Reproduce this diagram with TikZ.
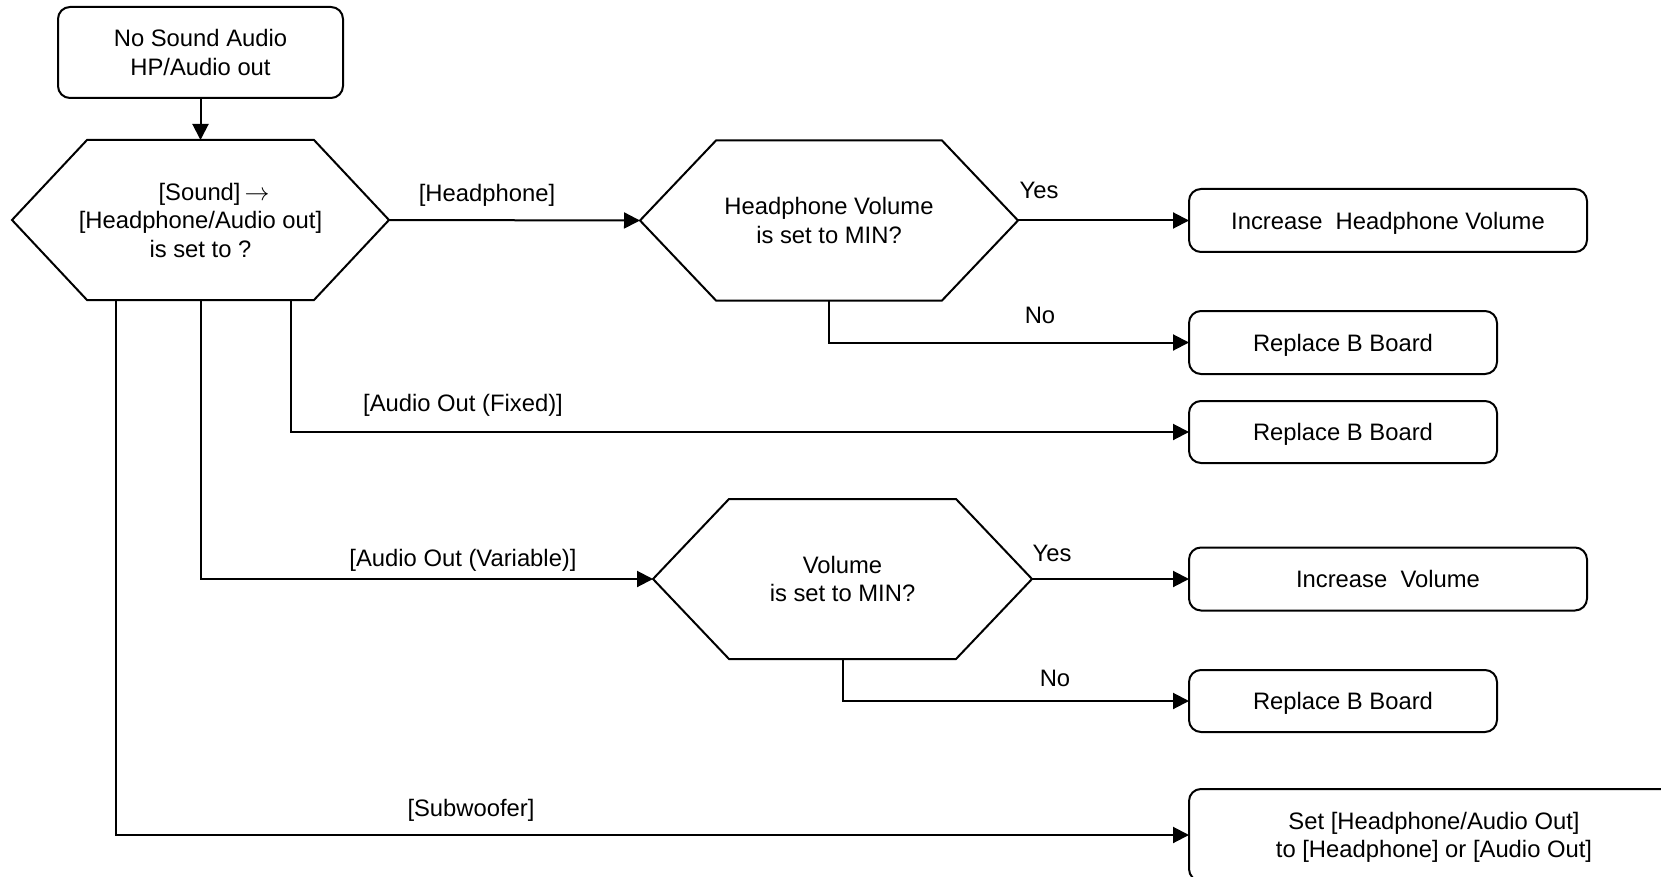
\documentclass[tikz,border=0pt]{standalone}
\usepackage{fontspec}
\setmainfont{Liberation Sans}
\usetikzlibrary{arrows.meta,calc}
\begin{document}
\begin{tikzpicture}[x=1pt,y=-1pt,
  every node/.style={font=\fontsize{23.8}{28.5}\selectfont, inner sep=0pt, outer sep=0pt, align=center},
  box/.style={draw, line width=2pt, rounded corners=12pt, text depth=0pt},
  hexnode/.style={text depth=0pt},
  hexline/.style={line width=2pt, line join=miter},
  conn/.style={line width=2pt, -{Triangle[length=16pt,width=16pt]}}]
\useasboundingbox (0,0) rectangle (1661,877);
\clip (0,0) rectangle (1661,877);
\fill[white] (0,0) rectangle (1661,877);

% start box
\node[box, minimum width=285pt, minimum height=91pt] (start) at (200.5,52.5) {No Sound Audio\\HP/Audio out};

% hexagon nodes (text holders)
\node[hexnode, minimum width=377pt, minimum height=160pt] (hex1) at (200.5,220) {\hspace*{27pt}[Sound]\,$\rightarrow$\\\relax [Headphone/Audio out]\\is set to ?};
\node[hexnode, minimum width=378pt, minimum height=160pt] (hex2) at (829,220.5) {Headphone Volume\\is set to MIN?};
\node[hexnode, minimum width=379pt, minimum height=160pt] (hex3) at (842.5,579) {Volume\\is set to MIN?};

\foreach \h/\c in {hex1/75,hex2/76,hex3/76}{
  \draw[hexline] (\h.west) -- ($(\h.north west)+(\c,0)$) -- ($(\h.north east)+(-\c,0)$) -- (\h.east)
    -- ($(\h.south east)+(-\c,0)$) -- ($(\h.south west)+(\c,0)$) -- cycle;
}

% result boxes
\node[box, minimum width=398pt, minimum height=63pt] (inc1) at (1388,220.5) {Increase\ \ Headphone Volume};
\node[box, minimum width=308pt, minimum height=63pt] (rep1) at (1343,342.5) {Replace B Board};
\node[box, minimum width=308pt, minimum height=62pt] (rep2) at (1343,432) {Replace B Board};
\node[box, minimum width=398pt, minimum height=63pt] (inc2) at (1388,579) {Increase\ \ Volume};
\node[box, minimum width=308pt, minimum height=62pt] (rep3) at (1343,701) {Replace B Board};
\node[box, minimum width=490pt, minimum height=92pt] (set) at (1434,835) {Set [Headphone/Audio Out]\\\relax to [Headphone] or [Audio Out]};

% connectors
\draw[conn] (start.south) -- (hex1.north);
\draw[conn] (hex1.east) -- (hex2.west);
\draw[conn] (hex2.east) -- (inc1.west);
\draw[conn] (hex2.south) |- (rep1.west);
\draw[conn] ($(hex1.south)+(90,0)$) |- (rep2.west);
\draw[conn] (hex1.south) |- (hex3.west);
\draw[conn] (hex3.east) -- (inc2.west);
\draw[conn] (hex3.south) |- (rep3.west);
\draw[conn] ($(hex1.south)+(-84.5,0)$) |- (set.west);

% labels
\node (lhp) at (487,195) {[Headphone]};
\node (lyes1) at (1039,190) {Yes};
\node (lno1) at (1040,315) {No};
\node (lfix) at (463,405) {[Audio Out (Fixed)]};
\node (lvar) at (463,560) {[Audio Out (Variable)]};
\node (lyes2) at (1052,553) {Yes};
\node (lno2) at (1055,678) {No};
\node (lsub) at (471,810) {[Subwoofer]};
\end{tikzpicture}
\end{document}
